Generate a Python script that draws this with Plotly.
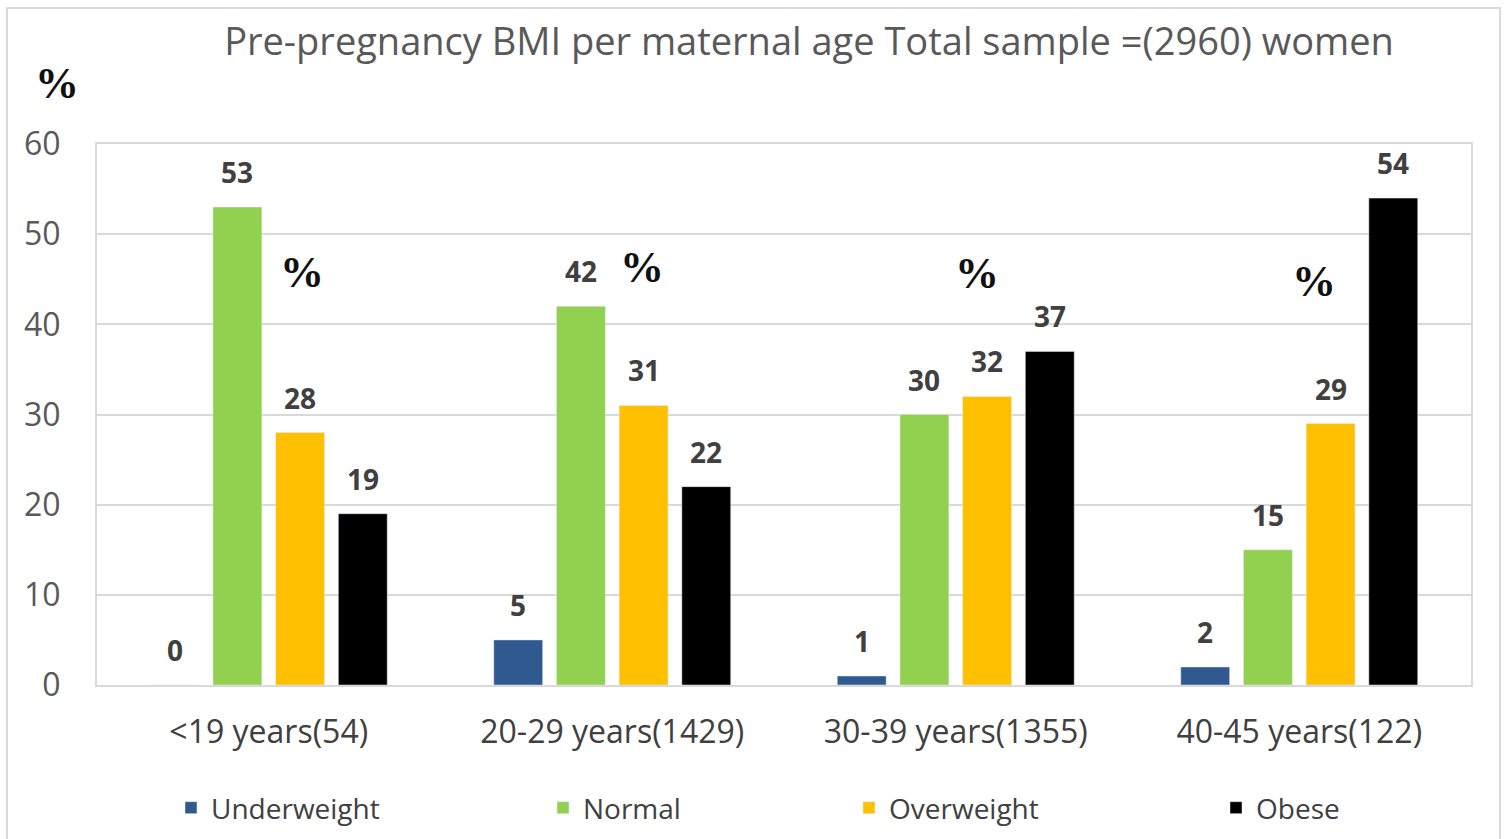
import plotly.graph_objects as go

categories = ["<19 years(54)", "20-29 years(1429)", "30-39 years(1355)", "40-45 years(122)"]
series_names = ["Underweight", "Normal", "Overweight", "Obese"]
underweight = [0, 5, 1, 2]
normal = [53, 42, 30, 15]
overweight = [28, 31, 32, 29]
obese = [19, 22, 37, 54]
colors = ["#30598F", "#92D050", "#FFC000", "#000000"]
legend_widths = [253, 187, 248, 150]
pct_x = [0.097, 1.088, 2.062, 3.043]
pct_y = [45.7, 46.3, 45.6, 44.8]
y_ticks = [0, 10, 20, 30, 40, 50, 60]

FONT = "Open Sans"
BARGAP = 0.27
BARGROUPGAP = 0.22
all_series = [underweight, normal, overweight, obese]
n = len(all_series)

fig = go.Figure()
for name, vals, col, lw in zip(series_names, all_series, colors, legend_widths):
    fig.add_trace(go.Bar(name=name, x=list(range(len(categories))), y=vals, marker_color=col,
                         legendwidth=lw))

# data labels above bars, positioned at the bar centres of the grouped layout
slot = (1 - BARGAP) / n
for i, vals in enumerate(all_series):
    for c, v in enumerate(vals):
        fig.add_annotation(x=c - (1 - BARGAP) / 2 + slot * (i + 0.5), y=v, xref="x", yref="y",
                           text=f"<b>{v}</b>", showarrow=False, yanchor="bottom", yshift=14,
                           font=dict(family=FONT, size=28, color="#404040"))

for x, y in zip(pct_x, pct_y):
    fig.add_annotation(x=x, y=y, xref="x", yref="y", text="<b>%</b>", showarrow=False,
                       font=dict(family="Liberation Serif", size=44, color="#111111"))

fig.add_annotation(x=-0.0465, y=1.161, xref="paper", yref="paper", text="<b>%</b>", showarrow=False,
                   font=dict(family="Liberation Serif", size=44, color="#111111"))

fig.add_shape(type="rect", xref="paper", yref="paper", x0=-0.0655, x1=1.0211, y0=-0.3, y1=1.2514,
              line=dict(color="#D9D9D9", width=2), fillcolor="rgba(0,0,0,0)", layer="below")

fig.update_layout(
    width=1509, height=839,
    margin=dict(l=97, r=38, t=144, b=154),
    paper_bgcolor="white", plot_bgcolor="white",
    barmode="group", bargap=BARGAP, bargroupgap=BARGROUPGAP,
    title=dict(text="Pre-pregnancy BMI per maternal age Total sample =(2960) women",
               x=809 / 1509, xanchor="center", xref="container", y=1 - 42 / 839, yanchor="middle",
               font=dict(family=FONT, size=38, color="#595959")),
    legend=dict(orientation="h", x=0, xanchor="left", xref="paper",
                y=(839 - 808) / 839, yanchor="middle", yref="container",
                entrywidthmode="pixels", indentation=74,
                font=dict(family=FONT, size=28, color="#404040")),
    xaxis=dict(tickmode="array", tickvals=list(range(len(categories))), ticktext=categories,
               range=[-0.5, 3.5], showgrid=False, showline=True, linecolor="#D9D9D9", linewidth=2,
               mirror=True, ticks="", ticklabelstandoff=18,
               tickfont=dict(family=FONT, size=32, color="#404040")),
    yaxis=dict(range=[0, 60], tickvals=y_ticks, showgrid=True, gridcolor="#D9D9D9", gridwidth=1.5,
               showline=True, linecolor="#D9D9D9", linewidth=2, mirror=True, zeroline=False,
               ticks="", ticklabelstandoff=28,
               tickfont=dict(family=FONT, size=32, color="#595959")),
)
fig.write_html("out.html", config={"displayModeBar": False},
               post_script="document.body.style.margin='0';")
